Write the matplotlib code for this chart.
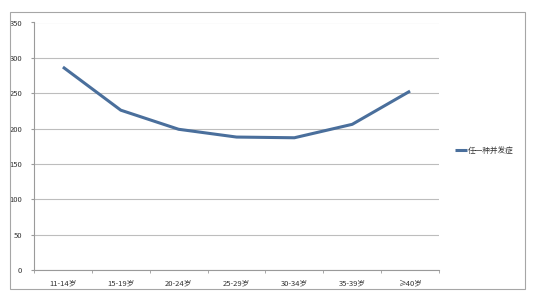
import matplotlib.pyplot as plt
from matplotlib.patches import Rectangle

plt.rcParams['font.family'] = ['Noto Sans CJK SC', 'DejaVu Sans']

# age groups and counts
groups = ["11-14岁", "15-19岁", "20-24岁", "25-29岁", "30-34岁", "35-39岁", "≥40岁"]
counts = [287, 226, 199, 188, 187, 206, 253]
series_name = "任一种并发症"

fig = plt.figure(figsize=(5.37, 3.08), dpi=100)
fig.patches.append(Rectangle((10 / 537, 1 - 289 / 308), 515 / 537, 277 / 308,
                             transform=fig.transFigure, fill=False,
                             edgecolor="#a6a6a6", linewidth=0.8))

ax = fig.add_axes([34 / 537, 1 - 270 / 308, 405 / 537, 247.5 / 308])
x = list(range(len(groups)))
line, = ax.plot(x, counts, color="#4a6f9c", linewidth=2.2, solid_capstyle="butt",
                label=series_name)

ax.set_xlim(-0.5, len(groups) - 0.5)
ax.set_ylim(0, 350)
ax.set_yticks(range(0, 351, 50))
ax.yaxis.grid(True, color="#bdbdbd", linewidth=0.8)
ax.set_axisbelow(True)

ax.set_xticks(x)
ax.set_xticklabels(groups, fontsize=5.5, color="#333333")
ax.tick_params(axis="x", length=0, pad=7)
ax.set_xticks([i - 0.5 for i in range(len(groups) + 1)], minor=True)
ax.tick_params(axis="x", which="minor", length=2.5, color="#9a9a9a")
ax.tick_params(axis="y", labelsize=5.5, labelcolor="#333333", length=2.5,
               color="#9a9a9a", pad=6)

for s in ["top", "right"]:
    ax.spines[s].set_visible(False)
for s in ["left", "bottom"]:
    ax.spines[s].set_color("#9a9a9a")
    ax.spines[s].set_linewidth(0.8)

fig.legend(handles=[line], loc="center left", bbox_to_anchor=(448 / 537, 1 - 151 / 308),
           frameon=False, fontsize=5.5, handlelength=1.6, handletextpad=0.1,
           labelcolor="#333333")

fig.savefig("out.png", dpi=100)
